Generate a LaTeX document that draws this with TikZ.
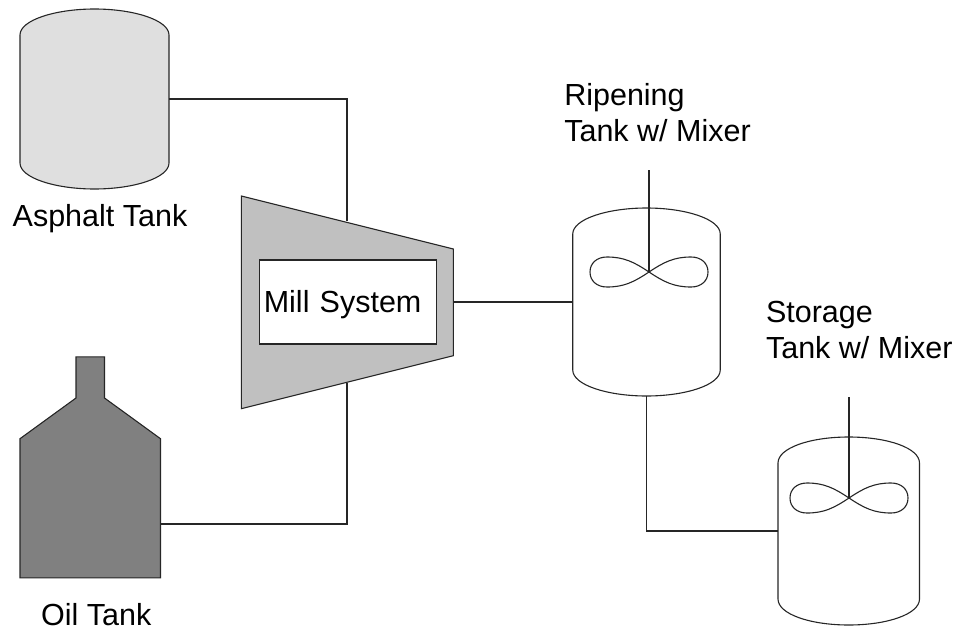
\documentclass[tikz,border=0pt]{standalone}
\usepackage{fontspec}
\setmainfont{Liberation Sans}
\usetikzlibrary{positioning,calc}
\definecolor{asphaltgrey}{HTML}{DFDFDF}
\definecolor{millgrey}{HTML}{C0C0C0}
\definecolor{oilgrey}{HTML}{808080}

\begin{document}
\begin{tikzpicture}[
  x=1pt, y=-1pt,
  pipe/.style={line width=1.1pt, draw=black!85},
  tankbody/.style={inner sep=0pt, outer sep=0pt},
  tanklabel/.style={inner sep=0pt, align=left, font=\fontsize{30.5}{35.7}\selectfont},
  millbox/.style={pipe, fill=white, minimum width=177pt, minimum height=84pt, inner xsep=4pt, text width=169pt, text height=27.4pt, text depth=6.4pt, align=left, font=\fontsize{30.5}{36}\selectfont},
  mixerblade/.pic={
    \foreach \s in {1,-1}{
      \draw[pipe, xscale=\s] (0,0) .. controls (15,-10) and (25,-15) .. (42,-15) .. controls (52,-15) and (59,-9) .. (59,0)
        .. controls (59,9) and (52,15) .. (42,15) .. controls (25,15) and (15,10) .. (0,0);
    }
  }
]
\useasboundingbox (0,0) rectangle (956,627);
\node[tankbody, minimum width=149pt, minimum height=180pt] (asphalt) at (94.5,99) {};
\node[tankbody, minimum width=140.5pt, minimum height=221pt] (oiltank) at (90.25,467.3) {};
\node[tankbody, minimum width=147.5pt, minimum height=188pt] (ripen) at (646.5,302) {};
\node[tankbody, minimum width=141.5pt, minimum height=188pt] (store) at (848.75,531) {};
\node[tanklabel, below=15.5pt of asphalt, xshift=5.5pt] (asphaltlabel) {Asphalt Tank};
\node[tanklabel, below=25pt of oiltank, xshift=6pt] (oillabel) {Oil Tank};
\node[tanklabel, above=66pt of ripen, xshift=11pt] (ripenlabel) {Ripening\\Tank w/ Mixer};
\node[tanklabel, above=78.5pt of store, xshift=10.5pt] (storelabel) {Storage\\Tank w/ Mixer};
\coordinate (millin1) at (347,221);
\coordinate (millin2) at (347,383);
\coordinate (millout) at (453.3,302);
\coordinate (oilout) at (160.5,524);
\coordinate (ripentop) at (649,170);
\coordinate (ripenmix) at (649,272);
\coordinate (storetop) at (849,397);
\coordinate (storemix) at (849,498);
\foreach \n/\c in {asphalt/asphaltgrey,ripen/white,store/white}{
  \draw[pipe, fill=\c] ($(\n.north west)+(0,26)$) .. controls ($(\n.north west)+(0,11)$) and ($(\n.north)+(-39,0)$) .. (\n.north)
    .. controls ($(\n.north)+(39,0)$) and ($(\n.north east)+(0,11)$) .. ($(\n.north east)+(0,26)$)
    -- ($(\n.south east)+(0,-26)$) .. controls ($(\n.south east)+(0,-11)$) and ($(\n.south)+(39,0)$) .. (\n.south)
    .. controls ($(\n.south)+(-39,0)$) and ($(\n.south west)+(0,-11)$) .. ($(\n.south west)+(0,-26)$) -- cycle;
}
\draw[pipe, fill=oilgrey] (oiltank.south west) -- (20,438.7) -- (76,398) -- (76,356.8) -- (104.5,356.8) -- (104.5,398) -- (160.5,438.7) -- (oiltank.south east) -- cycle;
\draw[pipe, fill=millgrey] (241.3,196) -- (453.3,249) -- (453.3,355.7) -- (241.3,408.7) -- cycle;
\node[millbox] (mill) at (348.3,302) {Mill System};
\draw[pipe] (asphalt.east) -| (millin1);
\draw[pipe] (oilout) -| (millin2);
\draw[pipe] (millout) -- (ripen.west);
\draw[pipe] (ripen.south) |- (store.west);
\foreach \a/\b in {ripentop/ripenmix,storetop/storemix}{\draw[pipe] (\a) -- (\b);}
\pic at (ripenmix) {mixerblade};
\pic at (storemix) {mixerblade};
\end{tikzpicture}
\end{document}
